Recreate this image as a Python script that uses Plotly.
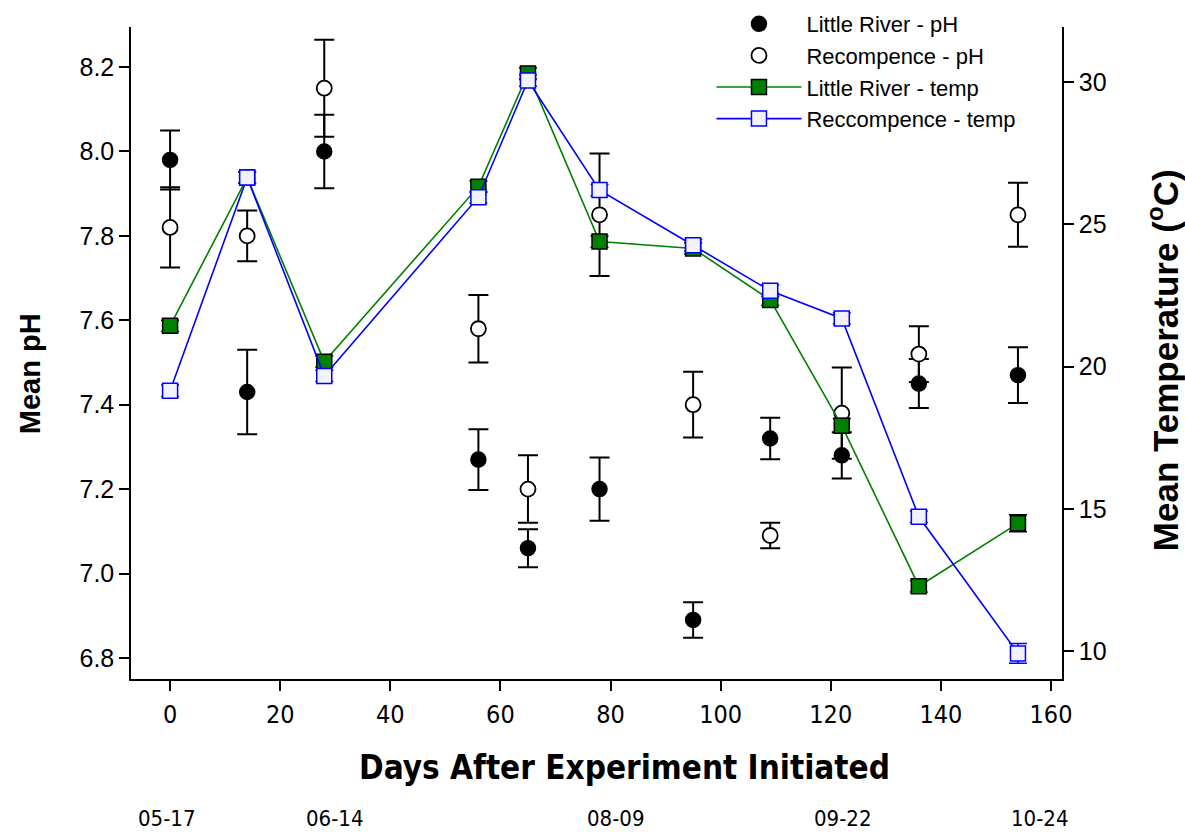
import plotly.graph_objects as go

# ---- data ----
days = [0, 14, 28, 56, 65, 78, 95, 109, 122, 136, 154]
lr_ph = [7.98, 7.43, 8.00, 7.27, 7.06, 7.20, 6.89, 7.32, 7.28, 7.45, 7.47]
lr_ph_err = [0.07, 0.10, 0.087, 0.072, 0.045, 0.075, 0.042, 0.049, 0.055, 0.058, 0.066]
rec_ph = [7.82, 7.80, 8.15, 7.58, 7.20, 7.85, 7.40, 7.09, 7.38, 7.52, 7.85]
rec_ph_err = [0.095, 0.06, 0.115, 0.08, 0.08, 0.145, 0.078, 0.03, 0.108, 0.066, 0.076]
lr_temp = [21.43, 26.64, 20.17, 26.32, 30.30, 24.39, 24.15, 22.34, 17.92, 12.28, 14.49]
lr_temp_err = [0.2, 0.2, 0.2, 0.2, 0.2, 0.2, 0.2, 0.2, 0.25, 0.2, 0.3]
rec_temp = [19.15, 26.64, 19.67, 25.95, 30.05, 26.20, 24.26, 22.66, 21.69, 14.72, 9.92]
rec_temp_err = [0.2, 0.2, 0.2, 0.2, 0.2, 0.2, 0.2, 0.2, 0.2, 0.2, 0.35]

x_ticks = [0, 20, 40, 60, 80, 100, 120, 140, 160]
ph_ticks = [6.8, 7.0, 7.2, 7.4, 7.6, 7.8, 8.0, 8.2]
temp_ticks = [10, 15, 20, 25, 30]
date_labels = ["05-17", "06-14", "08-09", "09-22", "10-24"]
date_label_days = [-0.5, 30, 81, 122.3, 158]

names = ["Little River - pH", "Recompence - pH", "Little River - temp", "Reccompence - temp"]

SANS = "Liberation Sans, Arial, Helvetica, sans-serif"
NARROW = "Liberation Sans Narrow, DejaVu Sans Condensed, Arial Narrow, Liberation Sans, sans-serif"

fig = go.Figure()

fig.add_trace(go.Scatter(
    x=days, y=lr_temp, yaxis="y2", name=names[2], mode="lines+markers",
    line=dict(color="#008000", width=1.6),
    marker=dict(symbol="square", size=15, color="#008000", line=dict(color="black", width=1.5)),
    error_y=dict(type="data", array=lr_temp_err, color="black", thickness=1.5, width=9),
    legendgroup="c", legendrank=3,
))
fig.add_trace(go.Scatter(
    x=days, y=rec_temp, yaxis="y2", name=names[3], mode="lines+markers",
    line=dict(color="#0000FF", width=1.6),
    marker=dict(symbol="square", size=15, color="#F2F2FF", line=dict(color="#0000FF", width=1.5)),
    error_y=dict(type="data", array=rec_temp_err, color="#0000FF", thickness=1.5, width=9),
    legendgroup="d", legendrank=4,
))
fig.add_trace(go.Scatter(
    x=days, y=lr_ph, yaxis="y", name=names[0], mode="markers",
    marker=dict(symbol="circle", size=15, color="black", line=dict(color="black", width=1.5)),
    error_y=dict(type="data", array=lr_ph_err, color="black", thickness=2, width=10),
    legendgroup="a", legendrank=1,
))
fig.add_trace(go.Scatter(
    x=days, y=rec_ph, yaxis="y", name=names[1], mode="markers",
    marker=dict(symbol="circle", size=15, color="white", line=dict(color="black", width=1.8)),
    error_y=dict(type="data", array=rec_ph_err, color="black", thickness=2, width=10),
    legendgroup="b", legendrank=2,
))

annotations = [
    dict(text="<b>Days After Experiment Initiated</b>", xref="paper", yref="paper",
         x=0.5306, y=-0.135, showarrow=False, xanchor="center", yanchor="middle",
         font=dict(family=NARROW, size=33, color="black")),
    dict(text="<b>Mean pH</b>", xref="paper", yref="paper", x=-0.1085, y=0.469,
         textangle=-90, showarrow=False, xanchor="center", yanchor="middle",
         font=dict(family=SANS, size=29, color="black")),
    dict(text="<b>Mean Temperature (<sup>o</sup>C)</b>", xref="paper", yref="paper", x=1.1085, y=0.489,
         textangle=-90, showarrow=False, xanchor="center", yanchor="middle",
         font=dict(family=SANS, size=35, color="black")),
]
for lbl, d in zip(date_labels, date_label_days):
    annotations.append(dict(text=lbl, xref="x", yref="paper", x=d, y=-0.2132, showarrow=False,
                            xanchor="center", yanchor="middle",
                            font=dict(family=NARROW, size=22, color="black")))

fig.update_layout(
    width=1185, height=832,
    margin=dict(l=131, r=123, t=27, b=153, autoexpand=False),
    paper_bgcolor="white", plot_bgcolor="white",
    showlegend=True,
    legend=dict(xref="container", yref="container", x=0.6004, y=0.9964, xanchor="left", yanchor="top",
                bgcolor="rgba(0,0,0,0)",
                font=dict(family=SANS, size=22, color="black"), traceorder="grouped",
                tracegroupgap=0, itemwidth=85),
    xaxis=dict(range=[-7.1, 162.0], tickvals=x_ticks, showline=True, linecolor="black", linewidth=1.5,
               ticks="outside", ticklen=10, tickwidth=1.5, tickcolor="black", showgrid=False,
               zeroline=False, tickfont=dict(family=NARROW, size=25, color="black"),
               ticklabelstandoff=2),
    yaxis=dict(range=[6.750, 8.295], tickvals=ph_ticks, tickformat=".1f", showline=True,
               linecolor="black", linewidth=1.5, ticks="outside", ticklen=10, tickwidth=1.5,
               tickcolor="black", showgrid=False, zeroline=False,
               tickfont=dict(family=SANS, size=25, color="black")),
    yaxis2=dict(range=[9.02, 31.93], tickvals=temp_ticks, overlaying="y", side="right",
                showline=True, linecolor="black", linewidth=1.5, ticks="outside", ticklen=10,
                tickwidth=1.5, tickcolor="black", showgrid=False, zeroline=False,
                tickfont=dict(family=SANS, size=25, color="black")),
    annotations=annotations,
)

fig.write_html("out.html")
